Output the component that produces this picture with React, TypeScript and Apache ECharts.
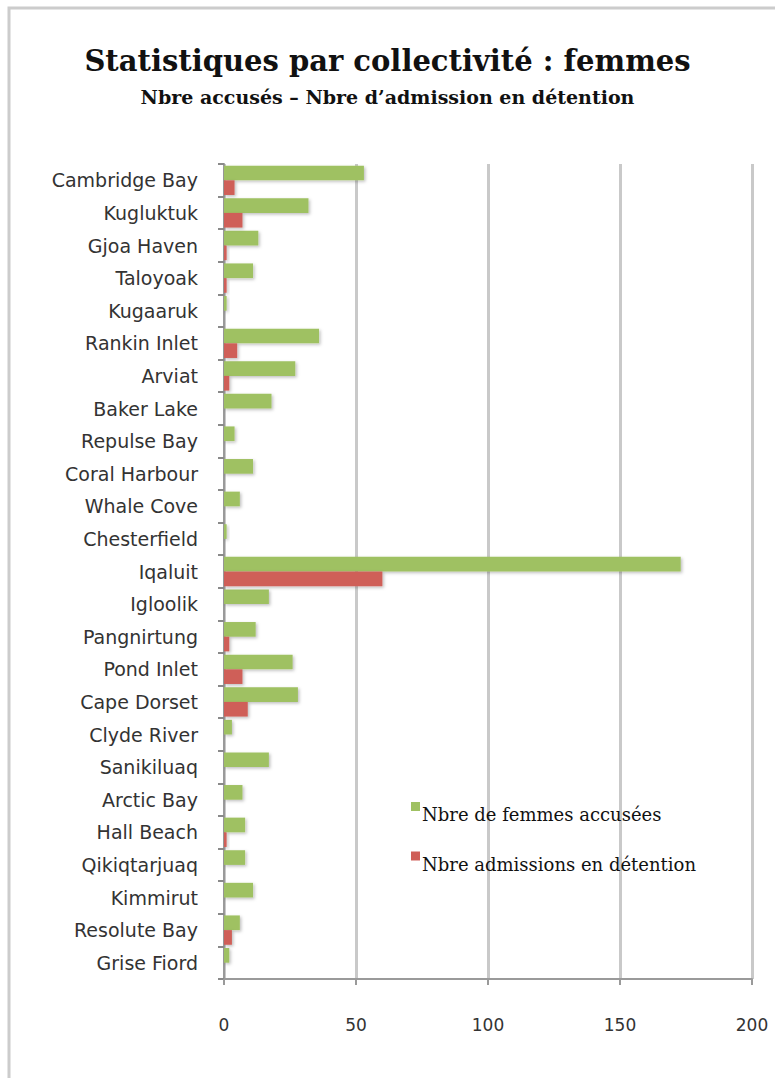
import React, { useEffect, useRef } from "react";
import * as echarts from "echarts";

const categories = [
  "Cambridge Bay", "Kugluktuk", "Gjoa Haven", "Taloyoak", "Kugaaruk",
  "Rankin Inlet", "Arviat", "Baker Lake", "Repulse Bay", "Coral Harbour",
  "Whale Cove", "Chesterfield", "Iqaluit", "Igloolik", "Pangnirtung",
  "Pond Inlet", "Cape Dorset", "Clyde River", "Sanikiluaq", "Arctic Bay",
  "Hall Beach", "Qikiqtarjuaq", "Kimmirut", "Resolute Bay", "Grise Fiord",
];
const accused = [53, 32, 13, 11, 1, 36, 27, 18, 4, 11, 6, 1, 173, 17, 12, 26, 28, 3, 17, 7, 8, 8, 11, 6, 2];
const detention = [4, 7, 1, 1, 0, 5, 2, 0, 0, 0, 0, 0, 60, 0, 2, 7, 9, 0, 0, 0, 1, 0, 0, 3, 0];
const xTicks = [0, 50, 100, 150, 200];

const seriesNames = ["Nbre de femmes accusées", "Nbre admissions en détention"];
const GREEN = "#9fc162";
const RED = "#cf5f58";

export default function App() {
  const ref = useRef<HTMLDivElement>(null);
  useEffect(() => {
    if (!ref.current) return;
    const chart = echarts.init(ref.current, null, { renderer: "svg" });
    const shadow = {
      shadowBlur: 3,
      shadowColor: "rgba(0,0,0,0.25)",
      shadowOffsetX: 1.5,
      shadowOffsetY: 1.5,
    };
    chart.setOption({
      animation: false,
      backgroundColor: "#ffffff",
      title: {
        text: "Statistiques par collectivité : femmes",
        subtext: "Nbre accusés – Nbre d’admission en détention",
        left: "center",
        top: 41,
        itemGap: 12,
        textStyle: {
          fontFamily: "DejaVu Serif",
          fontWeight: "bold",
          fontSize: 29,
          color: "#111111",
        },
        subtextStyle: {
          fontFamily: "DejaVu Serif",
          fontWeight: "bold",
          fontSize: 19,
          color: "#111111",
        },
      },
      graphic: [
        {
          type: "rect",
          shape: { x: 9, y: 8, width: 820, height: 1120 },
          style: { fill: "none", stroke: "#cccccc", lineWidth: 3 },
          silent: true,
        },
      ],
      legend: {
        orient: "vertical",
        left: 411,
        top: 802,
        padding: 0,
        itemWidth: 9,
        itemHeight: 9,
        itemGap: 28,
        icon: "rect",
        data: seriesNames,
        formatter: (name: string) => `{t|${name}}`,
        textStyle: {
          fontFamily: "DejaVu Serif",
          fontSize: 18,
          color: "#111111",
          rich: {
            t: {
              fontFamily: "DejaVu Serif",
              fontSize: 18,
              color: "#111111",
              padding: [16, 0, 0, -3],
            },
          },
        },
      },
      grid: { left: 224, right: 23, top: 164, bottom: 99, containLabel: false },
      xAxis: {
        type: "value",
        min: 0,
        max: 200,
        interval: 50,
        axisLine: { show: true, lineStyle: { color: "#9a9a9a", width: 2 } },
        axisTick: { show: true, length: 6, lineStyle: { color: "#9a9a9a", width: 2 } },
        splitLine: { show: true, lineStyle: { color: "#c9c9c9", width: 3 } },
        axisLabel: {
          margin: 37,
          fontFamily: "DejaVu Sans",
          fontSize: 17,
          color: "#333333",
          formatter: (v: number) => (xTicks.includes(v) ? String(v) : ""),
        },
      },
      yAxis: {
        type: "category",
        data: categories,
        inverse: true,
        axisLine: { show: true, lineStyle: { color: "#9a9a9a", width: 2 } },
        axisTick: { show: true, length: 6, lineStyle: { color: "#8a8a8a", width: 2 } },
        axisLabel: {
          margin: 26,
          fontFamily: "DejaVu Sans",
          fontSize: 19,
          color: "#333333",
        },
      },
      series: [
        {
          name: seriesNames[0],
          type: "bar",
          data: accused,
          barGap: "0%",
          barCategoryGap: "10%",
          itemStyle: { color: GREEN, ...shadow },
        },
        {
          name: seriesNames[1],
          type: "bar",
          data: detention,
          barGap: "0%",
          barCategoryGap: "10%",
          itemStyle: { color: RED, ...shadow },
        },
      ],
    });
    return () => chart.dispose();
  }, []);
  return (
    <div
      ref={ref}
      style={{ position: "fixed", left: 0, top: 0, width: 775, height: 1078 }}
    />
  );
}
